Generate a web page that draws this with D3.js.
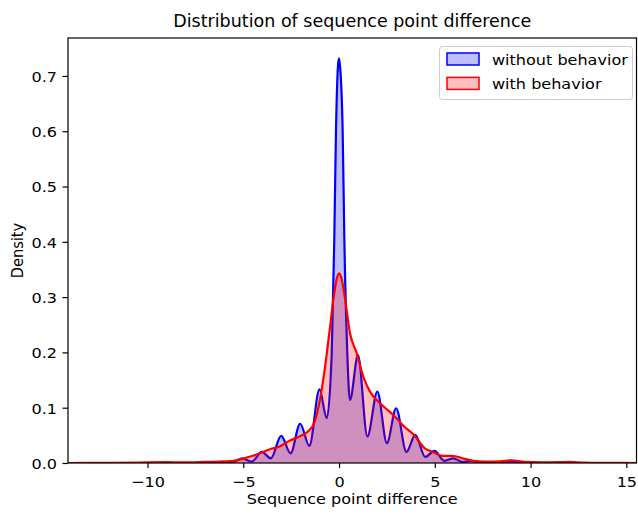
<!DOCTYPE html>
<html>
<head>
<meta charset="utf-8">
<script src="https://cdn.jsdelivr.net/npm/d3@7"></script>
<style>
  html, body { margin: 0; padding: 0; background: #fff; }
  svg { display: block; font-family: "DejaVu Sans", sans-serif; }
</style>
</head>
<body>
<svg id="chart" width="638" height="514"></svg>
<script>
// ---- data ----
const titleText = "Distribution of sequence point difference";
const xLabel = "Sequence point difference";
const yLabel = "Density";
const seriesNames = ["without behavior", "with behavior"];
const xTicks = [-10, -5, 0, 5, 10, 15];
const yTicks = [0.0, 0.1, 0.2, 0.3, 0.4, 0.5, 0.6, 0.7];

const blueX = [-14.2, -7, -6, -5.5, -5.05, -4.56, -4.03, -3.56, -3.02, -2.53, -2.03, -1.55, -1.02, -0.64, -0.38, -0.25, -0.16, -0.05, 0, 0.06, 0.19, 0.28, 0.43, 0.57, 0.99, 1.48, 2.0, 2.5, 2.98, 3.52, 3.98, 4.5, 4.98, 5.5, 5.97, 6.45, 6.9, 7.4, 8.2, 9.0, 9.8, 11, 15.6];
const blueD = [0, 0, 0.0005, 0.002, 0.0085, 0.0025, 0.020, 0.0085, 0.049, 0.0175, 0.071, 0.031, 0.133, 0.081, 0.2, 0.4, 0.6, 0.72, 0.732, 0.715, 0.6, 0.4, 0.2, 0.114, 0.195, 0.048, 0.129, 0.036, 0.099, 0.020, 0.051, 0.011, 0.022, 0.004, 0.0085, 0.002, 0.004, 0.001, 0.0005, 0.003, 0.0005, 0, 0];

const redX = [-14.2, -12, -10.5, -9, -8, -7, -6, -5.5, -5, -4.5, -4.1, -3.6, -3.1, -2.6, -2.0, -1.6, -1.3, -1.0, -0.73, -0.47, -0.3, -0.12, 0, 0.12, 0.31, 0.57, 0.92, 1.27, 1.6, 2.14, 2.6, 3.0, 3.4, 3.9, 4.5, 4.9, 5.4, 6.0, 6.5, 7.0, 7.6, 8.4, 9.0, 9.7, 10.5, 11.5, 12, 12.8, 14, 15.6];
const redD = [0, 0.0003, 0.0008, 0.0015, 0.001, 0.002, 0.003, 0.004, 0.008, 0.013, 0.018, 0.025, 0.030, 0.040, 0.049, 0.058, 0.072, 0.114, 0.174, 0.246, 0.295, 0.333, 0.343, 0.335, 0.298, 0.235, 0.199, 0.156, 0.130, 0.108, 0.094, 0.081, 0.066, 0.051, 0.026, 0.020, 0.013, 0.0127, 0.008, 0.004, 0.0025, 0.003, 0.005, 0.002, 0.0012, 0.0015, 0.002, 0.0008, 0.0002, 0];

// ---- layout ----
const W = 638, H = 514;
const margin = { left: 68, right: 1.5, top: 38, bottom: 51 };
const iw = W - margin.left - margin.right;
const ih = H - margin.top - margin.bottom;
const FS = 14.6;      // base font size (vertical)
const SX = 1.1;       // horizontal stretch of the reference text

const svg = d3.select("#chart");
const g = svg.append("g").attr("transform", `translate(${margin.left},${margin.top})`);

const x = d3.scaleLinear().domain([-14.15, 15.53]).range([0, iw]);
const y = d3.scaleLinear().domain([0, 0.7686]).range([ih, 0]);

svg.append("defs").append("clipPath").attr("id", "clip")
  .append("rect").attr("width", iw).attr("height", ih);

const plot = g.append("g").attr("clip-path", "url(#clip)");

function draw(xs, ds, color, fill) {
  const pts = xs.map((v, i) => [v, ds[i]]);
  const area = d3.area().x(d => x(d[0])).y0(y(0)).y1(d => y(d[1])).curve(d3.curveMonotoneX);
  const line = d3.line().x(d => x(d[0])).y(d => y(d[1])).curve(d3.curveMonotoneX);
  plot.append("path").datum(pts).attr("d", area).attr("fill", fill).attr("stroke", "none");
  plot.append("path").datum(pts).attr("d", line).attr("fill", "none")
    .attr("stroke", color).attr("stroke-width", 2.2).attr("stroke-linejoin", "round");
}
draw(blueX, blueD, "#0000ff", "rgba(0,0,255,0.25)");
draw(redX, redD, "#ff0000", "rgba(255,0,0,0.25)");

// ---- axes ----
const xAxis = d3.axisBottom(x).tickValues(xTicks).tickSize(5).tickPadding(6)
  .tickFormat(d => d < 0 ? "\u2212" + Math.abs(d) : String(d));
const gx = g.append("g").attr("transform", `translate(0,${ih})`).call(xAxis);
const yAxis = d3.axisLeft(y).tickValues(yTicks).tickSize(5.5).tickPadding(5.5).tickFormat(d3.format(".1f"));
const gy = g.append("g").call(yAxis);
[gx, gy].forEach(a => {
  a.select(".domain").remove();
  a.selectAll("line").attr("stroke", "#000").attr("stroke-width", 1.2);
});
gx.selectAll(".tick text").each(function () {
  d3.select(this).attr("font-size", FS).attr("fill", "#000").attr("font-family", "DejaVu Sans")
    .attr("dy", null).attr("y", 0)
    .attr("transform", `translate(0,24) scale(${SX},1)`);
});
gy.selectAll(".tick text").each(function () {
  d3.select(this).attr("font-size", FS).attr("fill", "#000").attr("font-family", "DejaVu Sans")
    .attr("dy", null).attr("x", 0).attr("y", 0)
    .attr("transform", `translate(-11,5.3) scale(${SX},1)`);
});

g.append("rect").attr("width", iw).attr("height", ih)
  .attr("fill", "none").attr("stroke", "#000").attr("stroke-width", 1.2);

// ---- labels ----
function stretchedText(parent, tx, ty, size, anchor, str, sx) {
  return parent.append("text")
    .attr("transform", `translate(${tx},${ty}) scale(${sx || SX},1)`)
    .attr("text-anchor", anchor).attr("font-size", size).attr("fill", "#000").text(str);
}
stretchedText(svg, margin.left + iw / 2, 27, 17, "middle", titleText, 1.03);
stretchedText(svg, margin.left + iw / 2, 504, FS, "middle", xLabel);
svg.append("text").attr("transform", `translate(23,${margin.top + ih / 2}) rotate(-90) scale(1,${SX})`)
  .attr("text-anchor", "middle").attr("font-size", FS).attr("fill", "#000").text(yLabel);

// ---- legend ----
const lg = svg.append("g");
lg.append("rect").attr("x", 439.5).attr("y", 46.5).attr("width", 193).attr("height", 53)
  .attr("rx", 3).attr("fill", "rgba(255,255,255,0.8)").attr("stroke", "#cccccc").attr("stroke-width", 1);
const legendColors = [["#0000ff", "rgba(0,0,255,0.25)"], ["#ff0000", "rgba(255,0,0,0.25)"]];
seriesNames.forEach((name, i) => {
  const cy = 59 + i * 24.4;
  lg.append("rect").attr("x", 447).attr("y", cy - 6).attr("width", 32).attr("height", 12)
    .attr("fill", legendColors[i][1]).attr("stroke", legendColors[i][0]).attr("stroke-width", 1.5);
  stretchedText(lg, 492, cy + 5.5, FS, "start", name);
});
</script>
</body>
</html>
